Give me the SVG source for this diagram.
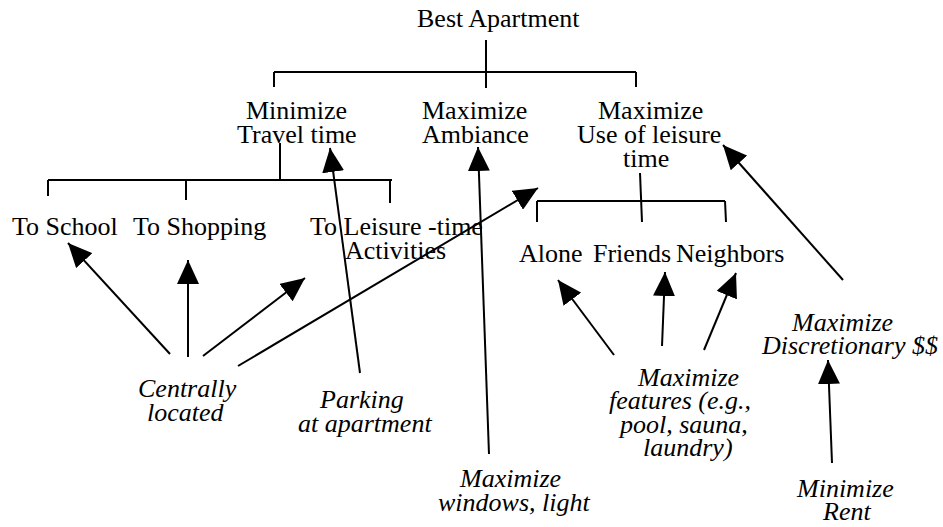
<svg xmlns="http://www.w3.org/2000/svg" width="943" height="527" viewBox="0 0 943 527">
  <style>
    .up { font-family: "Liberation Serif", "Times New Roman", serif; font-size: 26px; fill: #000; }
    .it { font-family: "Liberation Serif", "Times New Roman", serif; font-size: 26px; font-style: italic; fill: #000; }
    .tree line { stroke: #000; stroke-width: 2; fill: none; }
    .arrows line { stroke: #000; stroke-width: 2; fill: none; marker-end: url(#head); }
  </style>
  <defs>
    <marker id="head" viewBox="0 0 24 22" refX="24" refY="11" markerWidth="24" markerHeight="22" markerUnits="userSpaceOnUse" orient="auto">
      <path d="M0,0 L24,11 L0,22 Z" fill="#000"/>
    </marker>
  </defs>
  <rect width="943" height="527" fill="#fff"/>

  <!-- goal hierarchy brackets -->
  <g id="tree-lines" class="tree">
    <line x1="486" y1="40" x2="486" y2="88"/>
    <line x1="274" y1="72" x2="636" y2="72"/>
    <line x1="274" y1="72" x2="274" y2="87"/>
    <line x1="636" y1="72" x2="636" y2="87"/>

    <line x1="280" y1="143" x2="280" y2="180"/>
    <line x1="48" y1="180" x2="392" y2="180"/>
    <line x1="48" y1="180" x2="48" y2="196"/>
    <line x1="186" y1="180" x2="186" y2="200"/>
    <line x1="390" y1="180" x2="390" y2="203"/>

    <line x1="640" y1="173" x2="642" y2="222"/>
    <line x1="537" y1="201" x2="725" y2="201"/>
    <line x1="537" y1="201" x2="537" y2="222"/>
    <line x1="725" y1="201" x2="726" y2="222"/>
  </g>

  <!-- means-to-ends arrows -->
  <g id="connectors" class="arrows">
    <line x1="170" y1="354" x2="68" y2="243"/>
    <line x1="188" y1="357" x2="188" y2="260"/>
    <line x1="203" y1="356" x2="305" y2="278"/>
    <line x1="238" y1="366" x2="538" y2="188"/>
    <line x1="360" y1="373" x2="330" y2="148"/>
    <line x1="489" y1="454" x2="478" y2="147"/>
    <line x1="843" y1="280" x2="723" y2="145"/>
    <line x1="614" y1="355" x2="558" y2="280"/>
    <line x1="662" y1="346" x2="665" y2="272"/>
    <line x1="704" y1="350" x2="736" y2="273"/>
    <line x1="832" y1="463" x2="828" y2="360"/>
  </g>

  <g id="best-apartment"><text class="up" x="417" y="27">Best Apartment</text></g>
  <g id="min-travel-time">
    <text class="up" x="246" y="119">Minimize</text>
    <text class="up" x="237" y="143">Travel time</text>
  </g>
  <g id="max-ambiance">
    <text class="up" x="422" y="119">Maximize</text>
    <text class="up" x="422" y="143">Ambiance</text>
  </g>
  <g id="max-leisure-use">
    <text class="up" x="598" y="119">Maximize</text>
    <text class="up" x="577" y="143">Use of leisure</text>
    <text class="up" x="623" y="167">time</text>
  </g>
  <g id="to-school"><text class="up" x="12" y="235">To School</text></g>
  <g id="to-shopping"><text class="up" x="133" y="235">To Shopping</text></g>
  <g id="to-leisure">
    <text class="up" x="310" y="235">To Leisure -time</text>
    <text class="up" x="345" y="259">Activities</text>
  </g>
  <g id="alone"><text class="up" x="519" y="262">Alone</text></g>
  <g id="friends"><text class="up" x="593" y="262">Friends</text></g>
  <g id="neighbors"><text class="up" x="676" y="262">Neighbors</text></g>

  <g id="centrally-located">
    <text class="it" x="138" y="397">Centrally</text>
    <text class="it" x="147" y="421">located</text>
  </g>
  <g id="parking">
    <text class="it" x="320" y="408">Parking</text>
    <text class="it" x="298" y="432">at apartment</text>
  </g>
  <g id="windows-light">
    <text class="it" x="460" y="487">Maximize</text>
    <text class="it" x="438" y="511">windows, light</text>
  </g>
  <g id="features">
    <text class="it" x="638" y="386">Maximize</text>
    <text class="it" x="609" y="409">features (e.g.,</text>
    <text class="it" x="620" y="433">pool, sauna,</text>
    <text class="it" x="643" y="456">laundry)</text>
  </g>
  <g id="discretionary">
    <text class="it" x="792" y="331">Maximize</text>
    <text class="it" x="762" y="354">Discretionary $$</text>
  </g>
  <g id="min-rent">
    <text class="it" x="797" y="497">Minimize</text>
    <text class="it" x="823" y="520">Rent</text>
  </g>
</svg>
